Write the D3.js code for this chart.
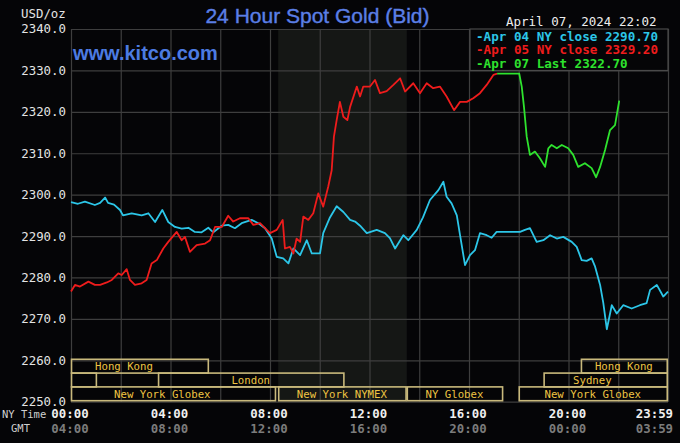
<!DOCTYPE html>
<html>
<head>
<meta charset="utf-8">
<script src="https://cdn.jsdelivr.net/npm/d3@7/dist/d3.min.js"></script>
<style>
  body { margin: 0; background: #050507; }
  svg { display: block; }
</style>
</head>
<body>
<div id="gold-chart"></div>
<script>
// 24 hour spot gold (hours in NY time)

const apr04Hours = [0, 0.28, 0.56, 0.96, 1.17, 1.37, 1.49, 1.73, 1.97, 2.09, 2.44, 2.84, 3.11, 3.38, 3.67, 3.91,
  4.18, 4.45, 4.72, 4.98, 5.25, 5.52, 5.72, 6.06, 6.32, 6.59, 6.86, 7.26, 7.53, 7.80, 8.07, 8.27, 8.53, 8.74,
  8.94, 9.21, 9.48, 9.68, 10.01, 10.14, 10.41, 10.68, 10.95, 11.22, 11.42, 11.62, 11.89, 12.29, 12.62, 12.82,
  13.03, 13.36, 13.56, 13.90, 14.15, 14.43, 14.77, 14.97, 15.10, 15.30, 15.51, 15.64, 15.84, 16.04, 16.24,
  16.44, 16.71, 16.91, 17.11, 18.05, 18.25, 18.45, 18.72, 18.99, 19.26, 19.53, 19.79, 20.13, 20.33, 20.53,
  20.73, 20.93, 21.07, 21.27, 21.40, 21.54, 21.74, 21.94, 22.20, 22.54, 22.87, 23.14, 23.28, 23.55, 23.81, 24];
const apr04Prices = [2298.2, 2297.8, 2298.3, 2297.5, 2298.0, 2299.3, 2298.0, 2297.6, 2296.3, 2295.0, 2295.5,
  2295.0, 2295.5, 2293.4, 2296.3, 2293.4, 2292.2, 2291.8, 2292.0, 2291.0, 2290.9, 2292.0, 2290.9, 2292.5,
  2292.7, 2291.9, 2293.1, 2293.9, 2293.1, 2291.9, 2289.4, 2285.0, 2284.6, 2283.4, 2287.0, 2285.4, 2289.0,
  2285.8, 2285.8, 2290.7, 2294.5, 2297.2, 2295.8, 2293.9, 2293.5, 2292.5, 2290.7, 2291.5, 2290.7, 2289.5,
  2287.0, 2290.2, 2289.0, 2291.5, 2294.5, 2298.7, 2301.1, 2303.1, 2299.5, 2297.9, 2295.0, 2290.2, 2283.0,
  2285.4, 2286.6, 2290.7, 2290.2, 2289.6, 2291.0, 2291.0, 2291.5, 2291.9, 2288.6, 2289.0, 2290.2, 2289.4,
  2289.8, 2288.6, 2287.4, 2284.2, 2284.0, 2284.6, 2282.6, 2278.2, 2273.8, 2267.5, 2273.3, 2271.3, 2273.3,
  2272.5, 2273.3, 2273.8, 2277.0, 2278.2, 2275.4, 2276.6];

const apr05Hours = [0, 0.16, 0.36, 0.70, 0.96, 1.17, 1.44, 1.64, 1.90, 2.04, 2.24, 2.37, 2.57, 2.84, 3.04, 3.24,
  3.45, 3.71, 3.91, 4.25, 4.45, 4.58, 4.78, 5.05, 5.39, 5.59, 5.79, 6.06, 6.32, 6.52, 6.79, 7.13, 7.33, 7.60,
  7.80, 8.00, 8.27, 8.51, 8.60, 8.80, 8.94, 9.07, 9.21, 9.34, 9.54, 9.74, 9.94, 10.14, 10.34, 10.48, 10.57,
  10.68, 10.81, 10.95, 11.11, 11.22, 11.49, 11.62, 11.75, 12.02, 12.22, 12.42, 12.69, 12.96, 13.23, 13.43,
  13.76, 14.03, 14.30, 14.56, 14.83, 15.10, 15.40, 15.64, 15.91, 16.17, 16.44, 16.71, 16.98, 17.13];
const apr05Prices = [2276.6, 2278.2, 2277.8, 2279.0, 2278.2, 2278.2, 2278.8, 2279.4, 2281.0, 2280.6, 2282.0,
  2279.4, 2278.2, 2278.6, 2279.4, 2283.4, 2284.2, 2287.0, 2288.6, 2291.0, 2289.0, 2289.8, 2286.2, 2287.8,
  2288.2, 2289.0, 2292.2, 2292.2, 2294.9, 2293.5, 2294.3, 2294.3, 2292.7, 2293.1, 2291.9, 2290.7, 2291.5,
  2293.9, 2287.0, 2287.4, 2285.8, 2289.4, 2288.6, 2294.7, 2293.9, 2295.5, 2300.3, 2297.1, 2301.9, 2305.9,
  2314.0, 2318.0, 2322.4, 2318.8, 2318.0, 2321.2, 2326.1, 2323.7, 2326.1, 2326.1, 2327.7, 2324.5, 2325.0,
  2326.5, 2328.1, 2324.9, 2326.9, 2324.5, 2326.9, 2325.7, 2326.1, 2323.7, 2320.4, 2322.4, 2322.4, 2323.3,
  2324.5, 2326.5, 2328.9, 2329.2];

const apr07Hours = [17.13, 18.02, 18.12, 18.21, 18.32, 18.45, 18.65, 18.85, 19.06, 19.19, 19.32, 19.53, 19.73,
  19.99, 20.19, 20.39, 20.66, 20.93, 21.11, 21.27, 21.47, 21.67, 21.87, 22.04];
const apr07Prices = [2329.2, 2329.2, 2326.1, 2321.2, 2314.0, 2309.6, 2310.4, 2308.8, 2306.7, 2311.2, 2312.0,
  2311.2, 2312.0, 2311.2, 2309.6, 2306.7, 2307.6, 2306.4, 2304.2, 2306.7, 2310.8, 2315.6, 2316.8, 2322.7];

const legendLabels = ["-Apr 04 NY close 2290.70", "-Apr 05 NY close 2329.20", "-Apr 07 Last 2322.70"];
const seriesColors = ["#2cc6e8", "#ee1c1c", "#2ee22e"];

const yTicks = [2250, 2260, 2270, 2280, 2290, 2300, 2310, 2320, 2330, 2340];
const gridHours = [0, 2, 4, 6, 8, 10, 12, 14, 16, 18, 20, 22, 24];
const labelHours = [0, 4, 8, 12, 16, 20, 23.983];
const nyTimeLabels = ["00:00", "04:00", "08:00", "12:00", "16:00", "20:00", "23:59"];
const gmtLabels = ["04:00", "08:00", "12:00", "16:00", "20:00", "00:00", "03:59"];

// NYMEX pit hours (shaded)
const nymexHours = [8.33, 13.5];

// market sessions: row 0 top, mid = where the label sits (hours)
const sessionNames = ["Hong Kong", "Hong Kong", "", "London", "Sydney", "New York Globex", "New York NYMEX", "NY Globex", "New York Globex"];
const sessionRows = [0, 0, 1, 1, 1, 2, 2, 2, 2];
const sessionStart = [0, 20.5, 0, 3.5, 19.0, 0, 8.33, 13.5, 18.0];
const sessionEnd = [5.5, 23.95, 1.0, 10.95, 23.95, 8.2, 13.45, 17.33, 23.95];
const sessionMid = [2.13, null, null, null, 20.96, 3.67, null, null, null];

(function () {
  const W = 680, H = 443;
  const mono = "'DejaVu Sans Mono', 'Liberation Mono', monospace";

  const x = d3.scaleLinear().domain([0, 24]).range([71, 668]);
  const y = d3.scaleLinear().domain([2250, 2340]).range([401.7, 29]);

  const svg = d3.select("#gold-chart").append("svg")
    .attr("width", W)
    .attr("height", H);

  svg.append("rect").attr("width", W).attr("height", H).attr("fill", "#050507");

  // shaded NYMEX hours
  svg.append("rect")
    .attr("x", x(nymexHours[0]))
    .attr("y", y(2340))
    .attr("width", x(nymexHours[1]) - x(nymexHours[0]))
    .attr("height", y(2250) - y(2340))
    .attr("fill", "#151715");

  // grid
  const yAxis = d3.axisLeft(y).tickValues(yTicks).tickSize(-(x(24) - x(0))).tickPadding(5)
    .tickFormat(d3.format(".1f"));
  const gy = svg.append("g").attr("transform", "translate(" + x(0) + ",0)").call(yAxis);
  gy.select(".domain").remove();
  gy.selectAll("line").attr("stroke", "#3e3e3e").attr("stroke-width", 1.2);
  gy.selectAll("text")
    .attr("fill", "#e4e4e4")
    .attr("font-family", mono)
    .attr("font-size", "12.4px");

  const xAxis = d3.axisBottom(x).tickValues(gridHours).tickSize(-(y(2250) - y(2340))).tickFormat("");
  const gx = svg.append("g").attr("transform", "translate(0," + y(2250) + ")").call(xAxis);
  gx.select(".domain").remove();
  gx.selectAll("line").attr("stroke", "#3e3e3e").attr("stroke-width", 1.2);

  // price lines
  const line = d3.line()
    .x(d => x(d[0]))
    .y(d => y(d[1]));

  const series = [
    d3.zip(apr04Hours, apr04Prices),
    d3.zip(apr05Hours, apr05Prices),
    d3.zip(apr07Hours, apr07Prices)
  ];

  svg.selectAll("path.price")
    .data(series)
    .enter()
    .append("path")
    .attr("class", "price")
    .attr("d", line)
    .attr("fill", "none")
    .attr("stroke", (d, i) => seriesColors[i])
    .attr("stroke-width", 1.8)
    .attr("stroke-linejoin", "round");

  // session boxes along the bottom
  const rowH = (y(2250) - y(2260)) / 3;
  const sessions = sessionNames.map((name, i) => ({
    name: name, row: sessionRows[i], start: sessionStart[i], end: sessionEnd[i],
    mid: sessionMid[i] == null ? (sessionStart[i] + sessionEnd[i]) / 2 : sessionMid[i]
  }));

  const sg = svg.append("g");
  sg.selectAll("rect")
    .data(sessions)
    .enter()
    .append("rect")
    .attr("x", d => x(d.start) + 0.5)
    .attr("y", d => y(2260) - 1 + d.row * rowH)
    .attr("width", d => x(d.end) - x(d.start))
    .attr("height", rowH)
    .attr("fill", "none")
    .attr("stroke", "#c9b97c")
    .attr("stroke-width", 1.6);

  sg.selectAll("text")
    .data(sessions)
    .enter()
    .append("text")
    .attr("x", d => x(d.mid))
    .attr("y", d => y(2260) - 1 + (d.row + 0.5) * rowH)
    .attr("dy", "0.35em")
    .attr("text-anchor", "middle")
    .attr("fill", "#eec443")
    .attr("font-family", mono)
    .attr("font-size", "10.7px")
    .text(d => d.name);

  // legend box
  svg.append("rect")
    .attr("x", 470).attr("y", 29)
    .attr("width", 198).attr("height", 41.5)
    .attr("fill", "#050507")
    .attr("stroke", "#4a4a4a")
    .attr("stroke-width", 1.2);

  svg.selectAll("text.legend")
    .data(legendLabels)
    .enter()
    .append("text")
    .attr("class", "legend")
    .attr("x", 476)
    .attr("y", (d, i) => 40.5 + i * 13.6)
    .attr("fill", (d, i) => seriesColors[i])
    .attr("font-family", mono)
    .attr("font-weight", "bold")
    .attr("font-size", "12.6px")
    .text(d => d);

  // time labels
  svg.selectAll("text.ny")
    .data(labelHours)
    .enter()
    .append("text")
    .attr("class", "ny")
    .attr("x", (d, i) => i === labelHours.length - 1 ? x(d) + 5.5 : x(d) - 1)
    .attr("y", 417.5)
    .attr("text-anchor", (d, i) => i === labelHours.length - 1 ? "end" : "middle")
    .attr("fill", "#f0f0f0")
    .attr("font-family", mono)
    .attr("font-weight", "bold")
    .attr("font-size", "12.4px")
    .text((d, i) => nyTimeLabels[i]);

  svg.selectAll("text.gmt")
    .data(labelHours)
    .enter()
    .append("text")
    .attr("class", "gmt")
    .attr("x", (d, i) => i === labelHours.length - 1 ? x(d) + 5.5 : x(d) - 1)
    .attr("y", 432.5)
    .attr("text-anchor", (d, i) => i === labelHours.length - 1 ? "end" : "middle")
    .attr("fill", "#7c7c7c")
    .attr("font-family", mono)
    .attr("font-weight", "bold")
    .attr("font-size", "12.4px")
    .text((d, i) => gmtLabels[i]);

  svg.append("text").attr("x", 2).attr("y", 417.5)
    .attr("fill", "#d0d0d0").attr("font-family", mono).attr("font-size", "10.5px")
    .text("NY Time");
  svg.append("text").attr("x", 11).attr("y", 432)
    .attr("fill", "#d0d0d0").attr("font-family", mono).attr("font-size", "10.5px")
    .text("GMT");

  // headers
  svg.append("text").attr("x", 21).attr("y", 18)
    .attr("fill", "#e4e4e4").attr("font-family", mono).attr("font-size", "12.4px")
    .text("USD/oz");

  svg.append("text")
    .attr("x", 317.5).attr("y", 23.3)
    .attr("text-anchor", "middle")
    .attr("fill", "#5b7fe6")
    .attr("stroke", "#5b7fe6")
    .attr("stroke-width", 0.4)
    .attr("font-family", "'Liberation Sans', Arial, sans-serif")
    .attr("font-size", "21px")
    .text("24 Hour Spot Gold (Bid)");

  svg.append("text")
    .attr("x", 506).attr("y", 25.8)
    .attr("fill", "#eeeeee").attr("font-family", mono).attr("font-size", "12.5px")
    .text("April 07, 2024 22:02");

  svg.append("text")
    .attr("x", 73).attr("y", 60)
    .attr("fill", "#4c7be2")
    .attr("font-family", "'Liberation Sans', Arial, sans-serif")
    .attr("font-weight", "bold")
    .attr("font-size", "20px")
    .text("www.kitco.com");
})();
</script>
</body>
</html>
